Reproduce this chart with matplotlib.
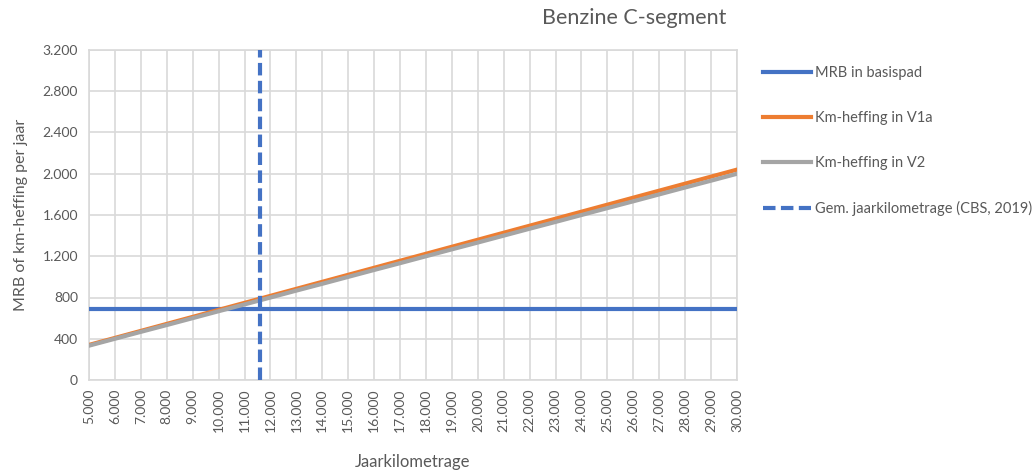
import matplotlib.pyplot as plt
from matplotlib.ticker import FuncFormatter

plt.rcParams['font.family'] = ['Lato', 'DejaVu Sans']

# data
km = [5000, 6000, 7000, 8000, 9000, 10000, 11000, 12000, 13000, 14000, 15000,
      16000, 17000, 18000, 19000, 20000, 21000, 22000, 23000, 24000, 25000,
      26000, 27000, 28000, 29000, 30000]
mrb_basispad = [690] * len(km)
v1a = [340, 408, 476, 544, 612, 680, 748, 816, 884, 952, 1020, 1088, 1156, 1224,
       1292, 1360, 1428, 1496, 1564, 1632, 1700, 1768, 1836, 1904, 1972, 2040]
v2 = [333, 400, 467, 533, 600, 667, 733, 800, 867, 933, 1000, 1067, 1133, 1200,
      1267, 1333, 1400, 1467, 1533, 1600, 1667, 1733, 1800, 1867, 1933, 2000]
gem_km = 11600
y_ticks = [0, 400, 800, 1200, 1600, 2000, 2400, 2800, 3200]

blue = '#4472C4'
orange = '#ED7D31'
grey = '#A5A5A5'
txt = '#595959'
grid = '#D9D9D9'

fig = plt.figure(figsize=(10.33, 4.72), dpi=100)
ax = fig.add_axes([89 / 1033, 1 - 380 / 472, 648 / 1033, 330 / 472])

ax.plot(km, mrb_basispad, color=blue, lw=3, label='MRB in basispad', zorder=3)
ax.plot(km, v1a, color=orange, lw=3, label='Km-heffing in V1a', zorder=3)
ax.plot(km, v2, color=grey, lw=3, label='Km-heffing in V2', zorder=4)
ax.plot([gem_km, gem_km], [0, 3200], color=blue, lw=3, ls=(0, (3, 1.3)),
        label='Gem. jaarkilometrage (CBS, 2019)', zorder=5)

ax.set_xlim(km[0], km[-1])
ax.set_ylim(0, 3200)
ax.set_xticks(km)
ax.set_yticks(y_ticks)

def nl(v, pos):
    return f'{int(v):,}'.replace(',', '.')

ax.xaxis.set_major_formatter(FuncFormatter(nl))
ax.yaxis.set_major_formatter(FuncFormatter(nl))
ax.tick_params(axis='x', labelrotation=90, length=0, labelsize=10, colors=txt, pad=6)
ax.tick_params(axis='y', length=0, labelsize=10, colors=txt, pad=8)
ax.grid(True, color=grid, lw=1.2)
ax.set_axisbelow(True)
for s in ax.spines.values():
    s.set_color(grid)
    s.set_linewidth(1.2)

ax.set_xlabel('Jaarkilometrage', fontsize=12, color=txt, labelpad=16)
ax.set_ylabel('MRB of km-heffing per jaar', fontsize=11.5, color=txt, labelpad=10)
fig.text(634 / 1033, 1 - 18 / 472, 'Benzine C-segment', fontsize=15.5, color=txt,
         ha='center', va='center')

leg = fig.legend(loc='upper left', bbox_to_anchor=(757 / 1033, 1 - 60 / 472),
                 frameon=False, fontsize=10.5, labelspacing=2.12, handlelength=3.3,
                 handletextpad=0.3, borderaxespad=0)
for t in leg.get_texts():
    t.set_color(txt)

fig.savefig('out.png', dpi=100)
